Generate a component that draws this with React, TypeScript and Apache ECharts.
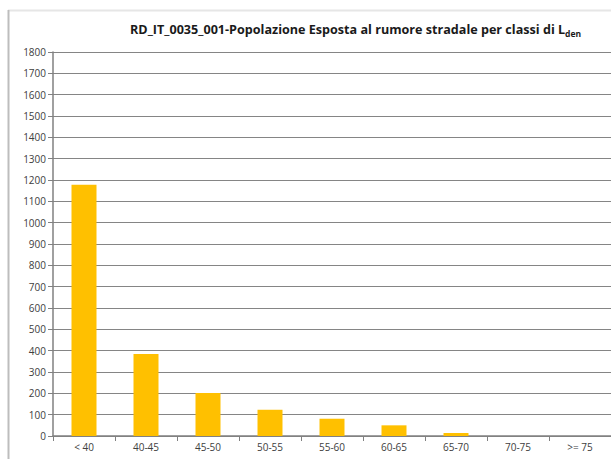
import React, { useEffect, useRef } from "react";
import * as echarts from "echarts";

const categories = ["< 40", "40-45", "45-50", "50-55", "55-60", "60-65", "65-70", "70-75", ">= 75"];
const population = [1178, 384, 202, 123, 81, 50, 14, 0, 0];
const yTicks = { min: 0, max: 1800, interval: 100 };

const FONT = "'Open Sans', 'Liberation Sans', sans-serif";

export default function App() {
  const ref = useRef<HTMLDivElement>(null);

  useEffect(() => {
    if (!ref.current) return;
    const chart = echarts.init(ref.current, null, { renderer: "svg" });
    chart.setOption({
      animation: false,
      backgroundColor: "#ffffff",
      title: {
        text: "{main|RD_IT_0035_001-Popolazione Esposta al rumore stradale per classi di L}{sub|den}",
        left: 125,
        top: 16,
        textStyle: {
          rich: {
            main: { fontFamily: FONT, fontWeight: "bold", fontSize: 12.6, color: "#1a1a1a" },
            sub: { fontFamily: FONT, fontWeight: "bold", fontSize: 8.5, color: "#1a1a1a", padding: [8, 0, 0, 0] },
          },
        },
      },
      graphic: [
        { type: "line", shape: { x1: 8, y1: 10.5, x2: 611, y2: 10.5 }, style: { stroke: "#e6e6e6", lineWidth: 2 } },
        { type: "line", shape: { x1: 8.5, y1: 10, x2: 8.5, y2: 459 }, style: { stroke: "#bdbdbd", lineWidth: 2 } },
      ],
      grid: { left: 53, top: 52, width: 560, height: 384 },
      xAxis: {
        type: "category",
        data: categories,
        axisLine: { lineStyle: { color: "#808080", width: 1.5 } },
        axisTick: { show: true, length: 5, alignWithLabel: false, lineStyle: { color: "#808080" } },
        axisLabel: { fontFamily: FONT, fontSize: 10, color: "#404040", margin: 6 },
      },
      yAxis: {
        type: "value",
        min: yTicks.min,
        max: yTicks.max,
        interval: yTicks.interval,
        axisLine: { show: true, lineStyle: { color: "#808080", width: 1.5 } },
        axisTick: { show: true, length: 5, lineStyle: { color: "#808080" } },
        axisLabel: {
          fontFamily: FONT,
          fontSize: 10,
          color: "#404040",
          margin: 7,
          formatter: (v: number) => String(v),
        },
        splitLine: { lineStyle: { color: "#858585", width: 1 } },
      },
      series: [
        {
          type: "bar",
          data: population,
          barWidth: 25,
          itemStyle: { color: "#FFC000" },
        },
      ],
    });
    return () => chart.dispose();
  }, []);

  return <div ref={ref} style={{ position: "fixed", left: 0, top: 0, width: 611, height: 459 }} />;
}
